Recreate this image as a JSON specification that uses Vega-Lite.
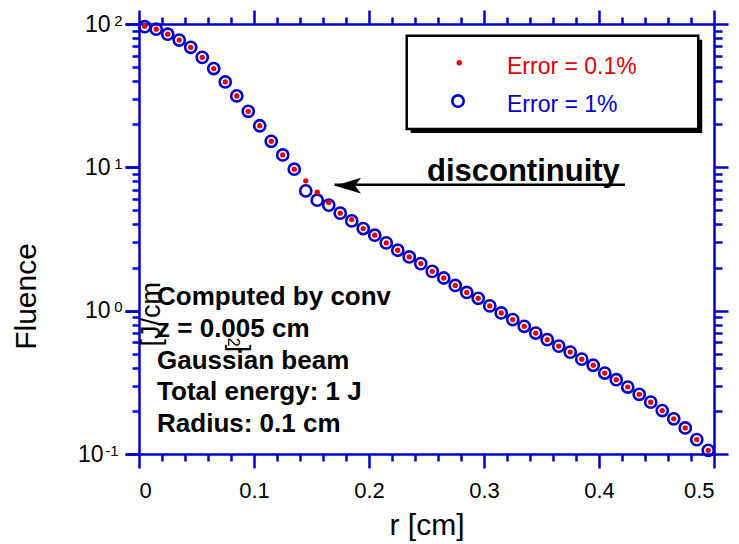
{
  "$schema": "https://vega.github.io/schema/vega-lite/v6.json",
  "width": 575,
  "height": 430,
  "autosize": "none",
  "padding": {"left": 139, "top": 24, "right": 25, "bottom": 90},
  "background": "white",
  "config": {
    "view": {"stroke": null},
    "axis": {
      "grid": false,
      "domainColor": "#0000cc",
      "tickColor": "#0000cc",
      "domainWidth": 2.5,
      "tickWidth": 2.5,
      "labelFont": "Liberation Sans",
      "titleFont": "Liberation Sans",
      "labelColor": "black",
      "titleColor": "black",
      "titleFontWeight": "normal"
    }
  },
  "datasets": {
    "blue": [
      {"r": 0.005, "F": 95.8}, {"r": 0.015, "F": 92.0}, {"r": 0.025, "F": 84.9}, {"r": 0.035, "F": 77.3},
      {"r": 0.045, "F": 68.8}, {"r": 0.055, "F": 58.5}, {"r": 0.065, "F": 48.9}, {"r": 0.075, "F": 39.4},
      {"r": 0.085, "F": 31.5}, {"r": 0.095, "F": 24.6}, {"r": 0.105, "F": 19.5}, {"r": 0.115, "F": 15.2},
      {"r": 0.125, "F": 12.2}, {"r": 0.135, "F": 9.71}, {"r": 0.145, "F": 6.85}, {"r": 0.155, "F": 5.90},
      {"r": 0.165, "F": 5.45}, {"r": 0.175, "F": 4.79}, {"r": 0.185, "F": 4.23}, {"r": 0.195, "F": 3.74},
      {"r": 0.205, "F": 3.36}, {"r": 0.215, "F": 2.97}, {"r": 0.225, "F": 2.64}, {"r": 0.235, "F": 2.37},
      {"r": 0.245, "F": 2.13}, {"r": 0.255, "F": 1.88}, {"r": 0.265, "F": 1.69}, {"r": 0.275, "F": 1.50},
      {"r": 0.285, "F": 1.34}, {"r": 0.295, "F": 1.22}, {"r": 0.305, "F": 1.08}, {"r": 0.315, "F": 0.964},
      {"r": 0.325, "F": 0.867}, {"r": 0.335, "F": 0.778}, {"r": 0.345, "F": 0.698}, {"r": 0.355, "F": 0.628},
      {"r": 0.365, "F": 0.566}, {"r": 0.375, "F": 0.514}, {"r": 0.385, "F": 0.459}, {"r": 0.395, "F": 0.416},
      {"r": 0.405, "F": 0.367}, {"r": 0.415, "F": 0.330}, {"r": 0.425, "F": 0.293}, {"r": 0.435, "F": 0.261},
      {"r": 0.445, "F": 0.230}, {"r": 0.455, "F": 0.201}, {"r": 0.465, "F": 0.176}, {"r": 0.475, "F": 0.152},
      {"r": 0.485, "F": 0.126}, {"r": 0.495, "F": 0.106}
    ],
    "red": [
      {"r": 0.005, "F": 96.5}, {"r": 0.015, "F": 92.0}, {"r": 0.025, "F": 84.9}, {"r": 0.035, "F": 77.3},
      {"r": 0.045, "F": 68.8}, {"r": 0.055, "F": 58.5}, {"r": 0.065, "F": 48.9}, {"r": 0.075, "F": 39.4},
      {"r": 0.085, "F": 31.5}, {"r": 0.095, "F": 24.6}, {"r": 0.105, "F": 19.5}, {"r": 0.115, "F": 15.2},
      {"r": 0.125, "F": 12.2}, {"r": 0.135, "F": 9.71}, {"r": 0.145, "F": 8.05}, {"r": 0.155, "F": 6.71},
      {"r": 0.165, "F": 5.69}, {"r": 0.175, "F": 4.79}, {"r": 0.185, "F": 4.32}, {"r": 0.195, "F": 3.74},
      {"r": 0.205, "F": 3.36}, {"r": 0.215, "F": 2.97}, {"r": 0.225, "F": 2.64}, {"r": 0.235, "F": 2.37},
      {"r": 0.245, "F": 2.13}, {"r": 0.255, "F": 1.88}, {"r": 0.265, "F": 1.69}, {"r": 0.275, "F": 1.50},
      {"r": 0.285, "F": 1.34}, {"r": 0.295, "F": 1.22}, {"r": 0.305, "F": 1.08}, {"r": 0.315, "F": 0.964},
      {"r": 0.325, "F": 0.867}, {"r": 0.335, "F": 0.778}, {"r": 0.345, "F": 0.698}, {"r": 0.355, "F": 0.628},
      {"r": 0.365, "F": 0.566}, {"r": 0.375, "F": 0.514}, {"r": 0.385, "F": 0.459}, {"r": 0.395, "F": 0.416},
      {"r": 0.405, "F": 0.367}, {"r": 0.415, "F": 0.330}, {"r": 0.425, "F": 0.293}, {"r": 0.435, "F": 0.261},
      {"r": 0.445, "F": 0.230}, {"r": 0.455, "F": 0.201}, {"r": 0.465, "F": 0.176}, {"r": 0.475, "F": 0.152},
      {"r": 0.485, "F": 0.126}, {"r": 0.495, "F": 0.106}
    ],
    "notes": [
      {"r": 0.0157, "F": 1.091, "label": "Computed by conv"},
      {"r": 0.0157, "F": 0.652, "label": "z = 0.005 cm"},
      {"r": 0.0157, "F": 0.390, "label": "Gaussian beam"},
      {"r": 0.0157, "F": 0.237, "label": "Total energy: 1 J"},
      {"r": 0.0157, "F": 0.1416, "label": "Radius: 0.1 cm"}
    ],
    "box": [{"r1": 0.2328, "r2": 0.4863, "F1": 82.8, "F2": 18.49}],
    "legendText": [
      {"r": 0.32, "F": 44.8, "label": "Error = 0.1%", "series": "0.1%"},
      {"r": 0.32, "F": 24.4, "label": "Error = 1%", "series": "1%"}
    ],
    "legendRed": [{"r": 0.2785, "F": 53.7}],
    "legendBlue": [{"r": 0.2774, "F": 29.0}],
    "arrowLine": [{"r": 0.170, "r2": 0.4226, "F": 7.55}],
    "arrowHead": [{"r": 0.1817, "F": 7.45}],
    "disc": [{"r": 0.2504, "F": 8.01, "label": "discontinuity"}],
    "unitA": [{"r": 0.0113, "F": 0.944, "label": "[J/cm"}],
    "unitB": [{"r": 0.0817, "F": 0.6016, "label": "2"}],
    "unitC": [{"r": 0.0870, "F": 0.5463, "label": "]"}]
  },
  "resolve": {"axis": {"x": "independent", "y": "independent"}},
  "layer": [
    {
      "data": {"name": "box"},
      "mark": {"type": "rect", "fill": "black", "xOffset": 4, "x2Offset": 4, "yOffset": 4, "y2Offset": 4},
      "encoding": {
        "x": {"field": "r1", "type": "quantitative", "scale": {"domain": [0, 0.5], "nice": false, "zero": false}, "axis": null},
        "x2": {"field": "r2"},
        "y": {"field": "F1", "type": "quantitative", "scale": {"type": "log", "domain": [0.1, 100], "nice": false}, "axis": null},
        "y2": {"field": "F2"}
      }
    },
    {
      "data": {"name": "box"},
      "mark": {"type": "rect", "fill": "white", "stroke": "black", "strokeWidth": 2.5},
      "encoding": {
        "x": {"field": "r1", "type": "quantitative", "axis": null},
        "x2": {"field": "r2"},
        "y": {"field": "F1", "type": "quantitative", "axis": null},
        "y2": {"field": "F2"}
      }
    },
    {
      "data": {"name": "blue"},
      "mark": {"type": "point", "shape": "circle", "filled": false, "stroke": "#0000cc", "strokeWidth": 2.6, "size": 125, "opacity": 1},
      "encoding": {
        "x": {"field": "r", "type": "quantitative", "axis": {
          "orient": "bottom", "values": [0, 0.1, 0.2, 0.3, 0.4, 0.5], "format": ".1~f",
          "tickSize": 14, "labelFontSize": 22, "labelPadding": 12,
          "title": "r [cm]", "titleFontSize": 30, "titleY": 80, "titleBaseline": "alphabetic"
        }},
        "y": {"field": "F", "type": "quantitative", "axis": {
          "orient": "left", "values": [0.1, 1, 10, 100],
          "labelExpr": "'10'",
          "tickSize": 14, "labelFontSize": 23,
          "labelPadding": {"condition": {"test": "datum.value < 0.5", "value": 22}, "value": 15},
          "title": "Fluence", "titleFontSize": 30, "titleAngle": 270, "titleX": -104, "titleY": 272,
          "titleAlign": "center", "titleBaseline": "alphabetic"
        }}
      }
    },
    {
      "data": {"name": "red"},
      "mark": {"type": "point", "shape": "circle", "filled": true, "fill": "#e00000", "size": 28, "opacity": 1},
      "encoding": {
        "x": {"field": "r", "type": "quantitative", "axis": {
          "orient": "bottom", "values": [0.02, 0.04, 0.06, 0.08, 0.12, 0.14, 0.16, 0.18, 0.22, 0.24, 0.26, 0.28, 0.32, 0.34, 0.36, 0.38, 0.42, 0.44, 0.46, 0.48],
          "tickSize": 7, "labels": false, "domain": false, "title": null
        }},
        "y": {"field": "F", "type": "quantitative", "axis": {
          "orient": "left", "values": [0.2, 0.3, 0.4, 0.5, 0.6, 0.7, 0.8, 0.9, 2, 3, 4, 5, 6, 7, 8, 9, 20, 30, 40, 50, 60, 70, 80, 90],
          "tickSize": 7, "labels": false, "domain": false, "title": null
        }}
      }
    },
    {
      "data": {"name": "legendRed"},
      "mark": {"type": "point", "shape": "circle", "filled": true, "fill": "#e00000", "size": 30, "opacity": 1},
      "encoding": {
        "x": {"field": "r", "type": "quantitative", "axis": null},
        "y": {"field": "F", "type": "quantitative", "axis": {
          "orient": "left", "values": [0.1, 1, 10, 100],
          "labelExpr": "datum.value > 50 ? '2' : datum.value > 5 ? '1' : datum.value > 0.5 ? '0' : '-1'",
          "tickSize": 14, "domain": false, "labelFontSize": 15, "labelOffset": -4,
          "labelPadding": {"condition": {"test": "datum.value < 0.5", "value": 7}, "value": 3},
          "title": null
        }}
      }
    },
    {
      "data": {"name": "notes"},
      "mark": {"type": "text", "font": "Liberation Sans", "fontWeight": "bold", "fontSize": 26, "align": "left", "baseline": "alphabetic", "color": "black"},
      "encoding": {
        "x": {"field": "r", "type": "quantitative", "axis": {
          "orient": "top", "values": [0, 0.1, 0.2, 0.3, 0.4, 0.5], "tickSize": 14, "labels": false, "title": null
        }},
        "y": {"field": "F", "type": "quantitative", "axis": {
          "orient": "right", "values": [0.1, 1, 10, 100], "tickSize": 14, "labels": false, "title": null
        }},
        "text": {"field": "label"}
      }
    },
    {
      "data": {"name": "legendText"},
      "mark": {"type": "text", "font": "Liberation Sans", "fontSize": 23, "align": "left", "baseline": "alphabetic"},
      "encoding": {
        "x": {"field": "r", "type": "quantitative", "axis": {
          "orient": "top", "values": [0.02, 0.04, 0.06, 0.08, 0.12, 0.14, 0.16, 0.18, 0.22, 0.24, 0.26, 0.28, 0.32, 0.34, 0.36, 0.38, 0.42, 0.44, 0.46, 0.48],
          "tickSize": 7, "labels": false, "domain": false, "title": null
        }},
        "y": {"field": "F", "type": "quantitative", "axis": {
          "orient": "right", "values": [0.2, 0.3, 0.4, 0.5, 0.6, 0.7, 0.8, 0.9, 2, 3, 4, 5, 6, 7, 8, 9, 20, 30, 40, 50, 60, 70, 80, 90],
          "tickSize": 8, "labels": false, "domain": false, "title": null
        }},
        "text": {"field": "label"},
        "color": {"field": "series", "type": "nominal", "scale": {"domain": ["0.1%", "1%"], "range": ["#e00000", "#0000cc"]}, "legend": null}
      }
    },
    {
      "data": {"name": "legendBlue"},
      "mark": {"type": "point", "shape": "circle", "filled": false, "stroke": "#0000cc", "strokeWidth": 2.6, "size": 130, "opacity": 1},
      "encoding": {
        "x": {"field": "r", "type": "quantitative", "axis": null},
        "y": {"field": "F", "type": "quantitative", "axis": null}
      }
    },
    {
      "data": {"name": "arrowLine"},
      "mark": {"type": "rule", "color": "black", "strokeWidth": 2.5},
      "encoding": {
        "x": {"field": "r", "type": "quantitative", "axis": null},
        "x2": {"field": "r2"},
        "y": {"field": "F", "type": "quantitative", "axis": null}
      }
    },
    {
      "data": {"name": "arrowHead"},
      "mark": {"type": "point", "shape": "M-1,0 L1,-0.6 L0.55,0 L1,0.6 Z", "filled": true, "fill": "black", "size": 676, "opacity": 1},
      "encoding": {
        "x": {"field": "r", "type": "quantitative", "axis": null},
        "y": {"field": "F", "type": "quantitative", "axis": null}
      }
    },
    {
      "data": {"name": "disc"},
      "mark": {"type": "text", "font": "Liberation Sans", "fontWeight": "bold", "fontSize": 31, "align": "left", "baseline": "alphabetic", "color": "black"},
      "encoding": {
        "x": {"field": "r", "type": "quantitative", "axis": null},
        "y": {"field": "F", "type": "quantitative", "axis": null},
        "text": {"field": "label"}
      }
    },
    {
      "data": {"name": "unitA"},
      "mark": {"type": "text", "font": "Liberation Sans", "fontSize": 27, "align": "center", "baseline": "middle", "angle": 270, "color": "black"},
      "encoding": {
        "x": {"field": "r", "type": "quantitative", "axis": null},
        "y": {"field": "F", "type": "quantitative", "axis": null},
        "text": {"field": "label"}
      }
    },
    {
      "data": {"name": "unitB"},
      "mark": {"type": "text", "font": "Liberation Sans", "fontSize": 16, "align": "center", "baseline": "middle", "angle": 90, "color": "black"},
      "encoding": {
        "x": {"field": "r", "type": "quantitative", "axis": null},
        "y": {"field": "F", "type": "quantitative", "axis": null},
        "text": {"field": "label"}
      }
    },
    {
      "data": {"name": "unitC"},
      "mark": {"type": "text", "font": "Liberation Sans", "fontSize": 28, "align": "center", "baseline": "middle", "angle": 90, "color": "black"},
      "encoding": {
        "x": {"field": "r", "type": "quantitative", "axis": null},
        "y": {"field": "F", "type": "quantitative", "axis": null},
        "text": {"field": "label"}
      }
    }
  ]
}
